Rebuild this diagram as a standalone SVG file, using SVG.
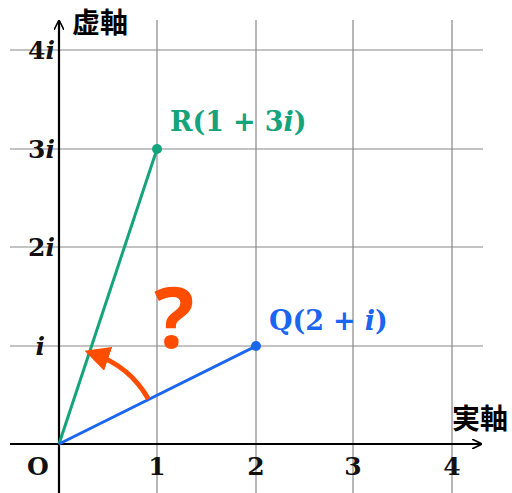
<svg xmlns="http://www.w3.org/2000/svg" width="512" height="493" viewBox="0 0 512 493">
<style>
.grid{stroke:#888;stroke-width:1.2;fill:none}
.axis{stroke:#000;stroke-width:2.2;fill:none}
.lbl{font-family:"DejaVu Serif","Liberation Serif",serif;font-weight:bold;font-size:25px;fill:#111}
.it{font-style:italic}
.jp{font-family:"Noto Sans CJK JP",sans-serif;font-weight:bold;font-size:28px;fill:#000}
</style>
<defs>
<marker id="ah" viewBox="0 0 10 10" refX="9" refY="5" markerWidth="10" markerHeight="10" markerUnits="userSpaceOnUse" orient="auto">
<path d="M0,0 L10,5 L0,10" fill="none" stroke="#000" stroke-width="1.6"/>
</marker>
<marker id="oh" viewBox="0 0 10 10" refX="6" refY="5" markerWidth="5" markerHeight="5" orient="auto">
<path d="M0,0 L10,5 L0,10 z" fill="#ff4d00"/>
</marker>
</defs>
<g id="grid">
<path class="grid" d="M157,20V493M256,20V493M353,20V493M452,20V493"/>
<path class="grid" d="M10,50H483M10,149H483M10,247H483M10,346H483"/>
</g>
<g id="axes">
<path class="axis" d="M10,444H481" marker-end="url(#ah)"/>
<path class="axis" d="M59,493V21" marker-end="url(#ah)"/>
<text class="jp" x="72" y="33">虚軸</text>
<text class="jp" x="452" y="429">実軸</text>
<text class="lbl" x="27" y="475">O</text>
<text class="lbl" x="157" y="475" text-anchor="middle">1</text>
<text class="lbl" x="256" y="475" text-anchor="middle">2</text>
<text class="lbl" x="353" y="475" text-anchor="middle">3</text>
<text class="lbl" x="452" y="475" text-anchor="middle">4</text>
<text class="lbl" x="55" y="59" text-anchor="end">4<tspan class="it">i</tspan></text>
<text class="lbl" x="55" y="158" text-anchor="end">3<tspan class="it">i</tspan></text>
<text class="lbl" x="55" y="256" text-anchor="end">2<tspan class="it">i</tspan></text>
<text class="lbl it" x="45" y="355" text-anchor="end">i</text>
</g>
<g id="connectors">
<line x1="59" y1="444" x2="157" y2="149" stroke="#14a37a" stroke-width="3"/>
<line x1="59" y1="444" x2="256" y2="346" stroke="#1a66f0" stroke-width="3"/>
<path d="M148.4,399 A100,100 0 0 0 94,354" stroke="#ff4d00" stroke-width="5" fill="none" marker-end="url(#oh)"/>
</g>
<g id="R">
<circle cx="157" cy="149" r="5" fill="#14a37a"/>
<text class="lbl" x="170" y="131" style="fill:#14a37a;font-size:27px">R(1<tspan dx="9">+</tspan><tspan dx="9">3</tspan><tspan class="it">i</tspan>)</text>
</g>
<g id="Q">
<circle cx="256" cy="346" r="5" fill="#1a66f0"/>
<text class="lbl" x="269" y="330" style="fill:#1a66f0;font-size:27px">Q(2<tspan dx="9">+</tspan><tspan dx="9" class="it">i</tspan>)</text>
</g>
<g id="question">
<text x="174" y="348" text-anchor="middle" style="font-family:'Noto Sans','DejaVu Sans',sans-serif;font-weight:bold;font-size:84px;fill:#ff4d00">?</text>
</g>
</svg>
